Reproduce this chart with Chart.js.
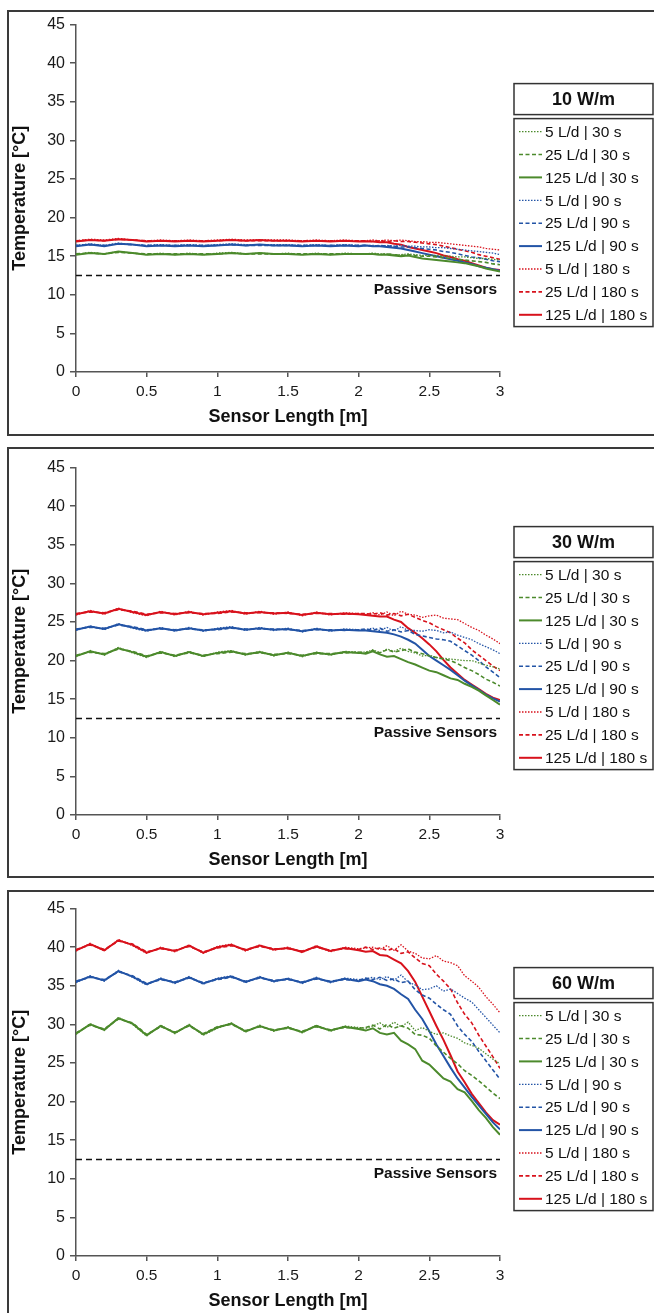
<!DOCTYPE html>
<html>
<head>
<meta charset="utf-8">
<script src="https://cdn.jsdelivr.net/npm/chart.js@4.4.0/dist/chart.umd.min.js"></script>
<style>
  html, body { margin: 0; padding: 0; background: #fff; }
  body { width: 654px; height: 1313px; position: relative; overflow: hidden; }
  .panel { position: absolute; left: 7px; width: 720px; border: 2px solid #3a3a3a; box-sizing: border-box; }
  canvas { position: absolute; left: 0; }
</style>
</head>
<body>
<div class="panel" style="top:10px;height:426px"></div>
<div class="panel" style="top:447px;height:431px"></div>
<div class="panel" style="top:890px;height:450px"></div>
<canvas id="c10" width="654" height="430" style="top:10px"></canvas>
<canvas id="c30" width="654" height="430" style="top:453px"></canvas>
<canvas id="c60" width="654" height="430" style="top:894px"></canvas>
<script>
// sensor positions [m]
const xs = [0, 0.1, 0.2, 0.3, 0.4, 0.5, 0.6, 0.7, 0.8, 0.9, 1.0, 1.1, 1.2, 1.3, 1.4, 1.5, 1.6, 1.7, 1.8, 1.9, 2.0,
  2.05, 2.1, 2.15, 2.2, 2.25, 2.3, 2.35, 2.4, 2.45, 2.5, 2.55, 2.6, 2.65, 2.7, 2.75, 2.8, 2.85, 2.9, 2.95, 3.0];

const seriesLabels = ['5 L/d | 30 s', '25 L/d | 30 s', '125 L/d | 30 s',
  '5 L/d | 90 s', '25 L/d | 90 s', '125 L/d | 90 s',
  '5 L/d | 180 s', '25 L/d | 180 s', '125 L/d | 180 s'];
const panelTitles = ['10 W/m', '30 W/m', '60 W/m'];
const passiveTemp = 12.5;
const xTicks = [0, 0.5, 1, 1.5, 2, 2.5, 3];
const yTicks = [0, 5, 10, 15, 20, 25, 30, 35, 40, 45];

// ---- 10 W/m ----
const w10_g5 = [15.2, 15.5, 15.3, 15.6, 15.4, 15.2, 15.4, 15.2, 15.4, 15.2, 15.4, 15.5, 15.3, 15.4, 15.3, 15.4, 15.2, 15.4, 15.2, 15.4, 15.3,
  15.3, 15.4, 15.3, 15.3, 15.2, 15.2, 15.3, 15.2, 15.1, 15.1, 15.1, 15.0, 15.0, 14.9, 14.9, 14.8, 14.7, 14.7, 14.6, 14.5];
const w10_g25 = [15.3, 15.4, 15.3, 15.5, 15.4, 15.3, 15.3, 15.3, 15.3, 15.3, 15.3, 15.4, 15.3, 15.3, 15.3, 15.3, 15.3, 15.3, 15.3, 15.3, 15.3,
  15.3, 15.3, 15.2, 15.3, 15.2, 15.1, 15.2, 15.1, 15.0, 15.0, 14.9, 14.8, 14.7, 14.6, 14.5, 14.4, 14.3, 14.2, 14.0, 13.9];
const w10_g125 = [15.2, 15.4, 15.3, 15.6, 15.4, 15.2, 15.3, 15.2, 15.3, 15.2, 15.3, 15.4, 15.3, 15.4, 15.3, 15.3, 15.2, 15.3, 15.2, 15.3, 15.3,
  15.3, 15.3, 15.2, 15.2, 15.1, 15.0, 15.1, 14.9, 14.7, 14.6, 14.5, 14.4, 14.3, 14.2, 14.1, 13.9, 13.7, 13.4, 13.2, 13.0];
const w10_b5 = [16.4, 16.6, 16.4, 16.7, 16.5, 16.4, 16.5, 16.4, 16.5, 16.4, 16.5, 16.6, 16.5, 16.5, 16.5, 16.5, 16.4, 16.5, 16.4, 16.5, 16.4,
  16.4, 16.4, 16.3, 16.4, 16.3, 16.4, 16.3, 16.3, 16.2, 16.2, 16.1, 16.1, 16.0, 15.9, 15.8, 15.7, 15.6, 15.5, 15.4, 15.2];
const w10_b25 = [16.4, 16.5, 16.4, 16.6, 16.5, 16.4, 16.4, 16.4, 16.4, 16.4, 16.4, 16.5, 16.4, 16.4, 16.4, 16.4, 16.4, 16.4, 16.4, 16.4, 16.4,
  16.4, 16.3, 16.4, 16.3, 16.3, 16.2, 16.2, 16.1, 16.0, 15.9, 15.8, 15.6, 15.5, 15.3, 15.1, 14.9, 14.8, 14.6, 14.4, 14.3];
const w10_b125 = [16.3, 16.5, 16.3, 16.6, 16.5, 16.3, 16.4, 16.3, 16.4, 16.3, 16.4, 16.5, 16.4, 16.5, 16.4, 16.4, 16.3, 16.4, 16.3, 16.4, 16.3,
  16.4, 16.3, 16.3, 16.2, 16.1, 16.0, 15.8, 15.6, 15.4, 15.2, 15.0, 14.8, 14.6, 14.4, 14.2, 14.0, 13.7, 13.5, 13.3, 13.1];
const w10_r5 = [17.0, 17.2, 17.1, 17.3, 17.1, 17.0, 17.1, 17.0, 17.1, 17.0, 17.1, 17.2, 17.1, 17.1, 17.1, 17.1, 17.0, 17.1, 17.0, 17.1, 17.0,
  17.0, 17.1, 17.0, 17.1, 17.0, 17.1, 17.0, 16.9, 16.9, 16.8, 16.8, 16.7, 16.6, 16.5, 16.4, 16.3, 16.2, 16.0, 15.9, 15.8];
const w10_r25 = [17.0, 17.1, 17.0, 17.2, 17.1, 17.0, 17.0, 17.0, 17.0, 17.0, 17.0, 17.1, 17.0, 17.0, 17.0, 17.0, 17.0, 17.0, 17.0, 17.0, 17.0,
  17.0, 16.9, 17.0, 16.9, 17.0, 16.9, 16.9, 16.8, 16.7, 16.6, 16.5, 16.3, 16.1, 15.9, 15.7, 15.5, 15.2, 15.0, 14.8, 14.6];
const w10_r125 = [16.9, 17.1, 17.0, 17.2, 17.1, 16.9, 17.0, 16.9, 17.0, 16.9, 17.0, 17.1, 17.0, 17.1, 17.0, 17.0, 16.9, 17.0, 16.9, 17.0, 16.9,
  16.9, 16.9, 16.8, 16.8, 16.6, 16.5, 16.2, 16.0, 15.8, 15.6, 15.4, 15.1, 14.9, 14.6, 14.4, 14.1, 13.8, 13.5, 13.3, 13.2];

// ---- 30 W/m ----
const w30_g5 = [20.5, 21.3, 20.7, 21.7, 21.0, 20.4, 21.2, 20.5, 21.2, 20.5, 21.1, 21.3, 20.7, 21.2, 20.6, 21.1, 20.5, 21.1, 20.7, 21.2, 21.1,
  21.1, 21.4, 21.0, 21.5, 21.2, 21.6, 21.2, 21.0, 20.6, 20.7, 20.4, 20.3, 20.2, 20.1, 20.0, 20.0, 19.7, 19.4, 19.2, 18.9];
const w30_g25 = [20.7, 21.1, 20.9, 21.5, 21.2, 20.6, 21.0, 20.7, 21.0, 20.7, 20.9, 21.1, 20.9, 21.0, 20.8, 20.9, 20.7, 20.9, 20.9, 21.0, 21.1,
  21.0, 21.3, 21.0, 21.4, 21.1, 21.3, 21.5, 21.1, 20.9, 20.6, 20.4, 20.2, 20.0, 19.6, 19.1, 18.7, 18.2, 17.6, 17.2, 16.7];
const w30_g125 = [20.6, 21.2, 20.8, 21.6, 21.1, 20.5, 21.1, 20.6, 21.1, 20.6, 21.0, 21.2, 20.8, 21.1, 20.7, 21.0, 20.6, 21.0, 20.8, 21.1, 21.0,
  20.9, 21.2, 20.8, 20.5, 20.6, 20.2, 19.8, 19.5, 19.1, 18.7, 18.5, 18.1, 17.7, 17.5, 17.0, 16.6, 16.1, 15.5, 14.9, 14.3];
const w30_b5 = [23.9, 24.5, 24.0, 24.8, 24.2, 23.8, 24.3, 23.8, 24.3, 23.8, 24.2, 24.4, 23.9, 24.3, 23.9, 24.2, 23.7, 24.2, 23.8, 24.1, 24.0,
  24.0, 24.2, 23.9, 24.3, 23.8, 24.4, 23.9, 23.9, 23.8, 24.0, 23.9, 23.6, 23.7, 23.3, 23.0, 22.7, 22.2, 21.8, 21.4, 20.9];
const w30_b25 = [24.1, 24.3, 24.2, 24.6, 24.4, 24.0, 24.1, 24.0, 24.1, 24.0, 24.0, 24.2, 24.1, 24.1, 24.1, 24.0, 23.9, 24.0, 24.0, 23.9, 24.0,
  24.1, 23.9, 24.2, 23.8, 24.0, 23.7, 23.9, 23.4, 23.2, 23.0, 22.8, 22.7, 22.5, 21.9, 21.3, 20.7, 20.0, 19.2, 18.5, 17.8];
const w30_b125 = [24.0, 24.4, 24.1, 24.7, 24.3, 23.9, 24.2, 23.9, 24.2, 23.9, 24.1, 24.3, 24.0, 24.2, 24.0, 24.1, 23.8, 24.1, 23.9, 24.0, 23.9,
  23.9, 23.8, 23.7, 23.6, 23.4, 23.1, 22.7, 22.2, 21.4, 20.6, 20.0, 19.4, 18.8, 18.1, 17.4, 16.8, 16.2, 15.6, 15.1, 14.7];
const w30_r5 = [25.9, 26.5, 26.0, 26.8, 26.2, 25.8, 26.4, 25.9, 26.4, 25.9, 26.3, 26.5, 26.0, 26.4, 26.0, 26.3, 25.8, 26.3, 25.9, 26.2, 26.1,
  26.0, 26.2, 25.9, 26.3, 25.8, 26.4, 26.0, 25.9, 25.6, 25.8, 25.9, 25.5, 25.4, 25.3, 24.8, 24.3, 23.9, 23.3, 22.8, 22.2];
const w30_r25 = [26.1, 26.3, 26.2, 26.6, 26.4, 26.0, 26.2, 26.1, 26.2, 26.1, 26.1, 26.3, 26.2, 26.2, 26.2, 26.1, 26.0, 26.1, 26.1, 26.0, 26.1,
  26.1, 26.0, 26.2, 25.9, 26.1, 25.8, 26.0, 25.6, 25.2, 24.9, 24.4, 24.0, 23.6, 22.9, 22.3, 21.4, 20.7, 20.0, 19.3, 18.7];
const w30_r125 = [26.0, 26.4, 26.1, 26.7, 26.3, 25.9, 26.3, 26.0, 26.3, 26.0, 26.2, 26.4, 26.1, 26.3, 26.1, 26.2, 25.9, 26.2, 26.0, 26.1, 26.0,
  25.9, 25.8, 25.7, 25.7, 25.3, 25.0, 24.2, 23.6, 22.9, 22.1, 21.2, 20.1, 19.1, 18.3, 17.5, 16.9, 16.3, 15.7, 15.2, 14.9];

// ---- 60 W/m ----
const w60_g5 = [28.7, 30.1, 29.2, 30.9, 30.0, 28.5, 29.9, 28.8, 30.0, 28.6, 29.5, 30.2, 29.0, 29.9, 29.1, 29.7, 28.9, 29.9, 29.1, 29.8, 29.6,
  29.5, 29.8, 30.2, 29.6, 30.3, 29.7, 30.3, 29.2, 29.6, 29.1, 28.7, 28.9, 28.5, 28.2, 27.6, 27.3, 26.9, 26.2, 25.5, 24.9];
const w60_g25 = [28.9, 29.9, 29.4, 30.7, 30.2, 28.7, 29.7, 29.0, 29.8, 28.8, 29.7, 30.0, 29.2, 29.7, 29.3, 29.5, 29.1, 29.7, 29.3, 29.6, 29.5,
  29.6, 29.9, 29.4, 30.0, 29.5, 29.8, 29.5, 28.7, 28.6, 28.2, 27.2, 26.4, 25.6, 24.9, 24.0, 23.4, 22.7, 21.9, 21.1, 20.4];
const w60_g125 = [28.8, 30.0, 29.3, 30.8, 30.1, 28.6, 29.8, 28.9, 29.9, 28.7, 29.6, 30.1, 29.1, 29.8, 29.2, 29.6, 29.0, 29.8, 29.2, 29.7, 29.4,
  29.2, 29.5, 28.9, 28.7, 28.9, 27.9, 27.4, 26.8, 25.3, 24.8, 23.9, 23.0, 22.6, 21.6, 21.2, 20.1, 18.9, 17.9, 16.7, 15.7];
const w60_b5 = [35.4, 36.3, 35.6, 37.0, 36.1, 35.1, 36.0, 35.3, 36.2, 35.2, 36.0, 36.3, 35.4, 36.2, 35.5, 36.0, 35.3, 36.1, 35.4, 36.0, 35.8,
  35.9, 36.1, 35.8, 36.2, 35.7, 36.4, 35.5, 35.1, 34.5, 34.6, 35.0, 34.3, 34.6, 34.0, 33.4, 32.9, 31.9, 30.9, 29.9, 28.9];
const w60_b25 = [35.6, 36.1, 35.8, 36.8, 36.3, 35.3, 35.8, 35.5, 36.0, 35.4, 35.8, 36.1, 35.6, 36.0, 35.7, 35.8, 35.5, 35.9, 35.6, 35.8, 35.7,
  36.0, 35.8, 36.1, 35.7, 35.9, 35.4, 35.6, 34.5, 33.8, 33.4, 32.6, 31.9, 31.3, 29.8, 28.7, 27.8, 26.5, 25.3, 24.1, 22.9];
const w60_b125 = [35.5, 36.2, 35.7, 36.9, 36.2, 35.2, 35.9, 35.4, 36.1, 35.3, 35.9, 36.2, 35.5, 36.1, 35.6, 35.9, 35.4, 36.0, 35.5, 35.9, 35.6,
  35.8, 35.6, 35.2, 35.0, 34.6, 33.9, 33.3, 31.9, 30.7, 29.1, 27.4, 25.9, 24.4, 23.0, 21.8, 20.6, 19.5, 18.4, 17.3, 16.4];
const w60_r5 = [39.5, 40.5, 39.5, 41.0, 40.2, 39.2, 40.0, 39.4, 40.3, 39.2, 40.1, 40.4, 39.5, 40.3, 39.6, 40.0, 39.3, 40.2, 39.4, 40.0, 39.8,
  39.9, 40.0, 39.7, 40.2, 39.6, 40.3, 39.5, 39.2, 38.6, 38.5, 38.9, 38.2, 38.0, 37.6, 36.3, 35.6, 34.8, 33.6, 32.6, 31.5];
const w60_r25 = [39.7, 40.3, 39.7, 40.8, 40.4, 39.4, 39.8, 39.6, 40.1, 39.4, 39.9, 40.2, 39.7, 40.1, 39.8, 39.8, 39.5, 40.0, 39.6, 39.8, 39.7,
  40.0, 39.7, 39.9, 39.6, 39.8, 39.2, 39.4, 38.6, 37.9, 37.6, 36.5, 35.6, 34.6, 32.8, 31.3, 30.2, 28.6, 27.2, 25.8, 24.3];
const w60_r125 = [39.6, 40.4, 39.6, 40.9, 40.3, 39.3, 39.9, 39.5, 40.2, 39.3, 40.0, 40.3, 39.6, 40.2, 39.7, 39.9, 39.4, 40.1, 39.5, 39.9, 39.6,
  39.4, 39.5, 39.0, 38.9, 38.4, 37.9, 36.9, 35.5, 33.6, 31.7, 29.8, 28.0, 26.0, 23.9, 22.5, 21.0, 19.8, 18.6, 17.6, 17.0];

// line styles (green = 30 s, blue = 90 s, red = 180 s; dotted/dashed/solid = 5/25/125 L/d)
const GREEN = '#4c8a2c', BLUE = '#2354a6', RED = '#d8121c';
const colors = [GREEN, GREEN, GREEN, BLUE, BLUE, BLUE, RED, RED, RED];
const dashes = [[1.5, 1.5], [4, 2.5], []];
const widths = [1.3, 1.6, 2];

const FONT = '"Liberation Sans", Arial, sans-serif';
Chart.defaults.font.family = FONT;
Chart.defaults.color = '#1a1a1a';

// legend drawn as two boxes (title + entries) like the original
const boxLegend = {
  id: 'boxLegend',
  afterDraw(chart, args, opts) {
    const ctx = chart.ctx;
    const left = 514, right = 653;
    const top = chart.chartArea.top + 59;
    ctx.save();
    ctx.strokeStyle = '#333';
    ctx.lineWidth = 1.5;
    ctx.strokeRect(left, top, right - left, 31);
    ctx.fillStyle = '#111';
    ctx.font = 'bold 18px ' + FONT;
    ctx.textAlign = 'center';
    ctx.textBaseline = 'middle';
    ctx.fillText(opts.title, (left + right) / 2, top + 16);

    const boxTop = top + 35;
    ctx.strokeRect(left, boxTop, right - left, 208);
    ctx.font = '15.5px ' + FONT;
    ctx.textAlign = 'left';
    chart.data.datasets.slice(0, seriesLabels.length).forEach((ds, i) => {
      const y = boxTop + 13 + i * 22.9;
      ctx.beginPath();
      ctx.strokeStyle = ds.borderColor;
      ctx.lineWidth = ds.borderWidth;
      ctx.setLineDash(ds.borderDash);
      ctx.moveTo(519, y);
      ctx.lineTo(542, y);
      ctx.stroke();
      ctx.setLineDash([]);
      ctx.fillStyle = '#111';
      ctx.fillText(ds.label, 545, y + 1);
    });
    ctx.restore();
  }
};

// "Passive Sensors" caption under the dashed reference line
const passiveText = {
  id: 'passiveText',
  afterDatasetsDraw(chart) {
    const ctx = chart.ctx;
    const x = chart.scales.x.getPixelForValue(3) - 3;
    const y = chart.scales.y.getPixelForValue(passiveTemp) + 14;
    ctx.save();
    ctx.font = 'bold 15.5px ' + FONT;
    ctx.fillStyle = '#111';
    ctx.textAlign = 'right';
    ctx.textBaseline = 'middle';
    ctx.fillText('Passive Sensors', x, y);
    ctx.restore();
  }
};

const makeChart = (id, title, series) => {
  const datasets = series.map((arr, i) => ({
    label: seriesLabels[i],
    data: xs.map((x, j) => ({ x, y: arr[j] })),
    borderColor: colors[i],
    borderWidth: widths[i % 3],
    borderDash: dashes[i % 3],
    pointRadius: 0,
    tension: 0,
    fill: false
  }));
  datasets.push({
    label: 'Passive Sensors',
    data: [{ x: 0, y: passiveTemp }, { x: 3, y: passiveTemp }],
    borderColor: '#111',
    borderWidth: 1.5,
    borderDash: [6, 4],
    pointRadius: 0
  });

  const axisColor = '#555';
  return new Chart(document.getElementById(id), {
    type: 'line',
    data: { datasets },
    options: {
      responsive: false,
      animation: false,
      devicePixelRatio: 1,
      layout: { padding: { left: 0, right: 154, top: 14, bottom: 0 } },
      plugins: {
        legend: { display: false },
        tooltip: { enabled: false },
        boxLegend: { title }
      },
      scales: {
        x: {
          type: 'linear',
          min: 0,
          max: 3,
          afterFit: (scale) => { scale.height = 68; },
          afterBuildTicks: (scale) => { scale.ticks = xTicks.map(v => ({ value: v })); },
          ticks: { font: { size: 15.5 }, padding: 5, color: '#1a1a1a', callback: v => String(v) },
          grid: { drawOnChartArea: false, drawTicks: true, tickLength: 5, color: axisColor, lineWidth: 1.5 },
          border: { display: true, color: axisColor, width: 1.5 },
          title: { display: true, text: 'Sensor Length [m]', font: { size: 18, weight: 'bold' }, color: '#111', padding: { top: 4, bottom: 12 } }
        },
        y: {
          min: 0,
          max: 45,
          afterFit: (scale) => { scale.width = 76; },
          afterBuildTicks: (scale) => { scale.ticks = yTicks.map(v => ({ value: v })); },
          ticks: { font: { size: 16 }, padding: 5, color: '#1a1a1a' },
          grid: { drawOnChartArea: false, drawTicks: true, tickLength: 6, color: axisColor, lineWidth: 1.5 },
          border: { display: true, color: axisColor, width: 1.5 },
          title: { display: true, text: 'Temperature [°C]', font: { size: 18, weight: 'bold' }, color: '#111', padding: { top: 9, bottom: 4 } }
        }
      }
    },
    plugins: [boxLegend, passiveText]
  });
};

makeChart('c10', panelTitles[0], [w10_g5, w10_g25, w10_g125, w10_b5, w10_b25, w10_b125, w10_r5, w10_r25, w10_r125]);
makeChart('c30', panelTitles[1], [w30_g5, w30_g25, w30_g125, w30_b5, w30_b25, w30_b125, w30_r5, w30_r25, w30_r125]);
makeChart('c60', panelTitles[2], [w60_g5, w60_g25, w60_g125, w60_b5, w60_b25, w60_b125, w60_r5, w60_r25, w60_r125]);
</script>
</body>
</html>
